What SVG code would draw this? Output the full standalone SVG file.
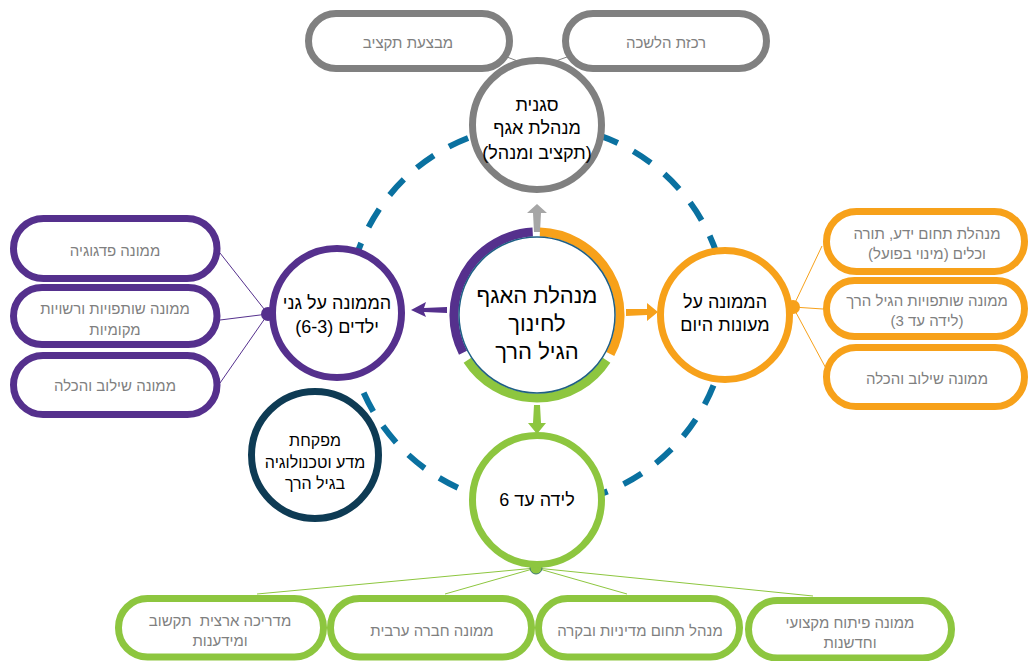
<svg xmlns="http://www.w3.org/2000/svg" width="1029" height="661" viewBox="0 0 1029 661">
<defs>
<style>
.pill{fill:#fff;stroke-width:7}
.gray{stroke:#808080}
.purple{stroke:#55308d}
.orange{stroke:#f7a11a}
.green{stroke:#8dc63f}
.navy{stroke:#0e3b54}
.pt{font-family:"Liberation Sans","DejaVu Sans",sans-serif;font-size:15px;fill:#7f7f7f;text-anchor:middle;direction:rtl}
.nt{font-family:"Liberation Sans","DejaVu Sans",sans-serif;font-size:18px;fill:#000;text-anchor:middle;direction:rtl}
.ct{font-family:"Liberation Sans","DejaVu Sans",sans-serif;font-size:22px;fill:#000;text-anchor:middle;direction:rtl}
.ln{stroke-width:1;fill:none}
.node{fill:#fff;stroke-width:7}
</style>
</defs>
<rect width="1029" height="661" fill="#fff"/>
<circle cx="537" cy="315" r="190" fill="none" stroke="#0a71a0" stroke-width="6" stroke-dasharray="21 17.5" stroke-dashoffset="5"/>
<g id="connectors">
<line class="ln gray" x1="536" y1="68" x2="507" y2="57"/>
<line class="ln gray" x1="536" y1="68" x2="567" y2="57"/>
<line class="ln purple" x1="268" y1="314" x2="220" y2="253"/>
<line class="ln purple" x1="268" y1="314" x2="220" y2="320"/>
<line class="ln purple" x1="268" y1="314" x2="220" y2="383"/>
<line class="ln orange" x1="793" y1="307" x2="822" y2="246"/>
<line class="ln orange" x1="793" y1="307" x2="823" y2="309"/>
<line class="ln orange" x1="793" y1="307" x2="829" y2="374"/>
<line class="ln green" x1="536" y1="568" x2="257" y2="594"/>
<line class="ln green" x1="536" y1="568" x2="445" y2="594"/>
<line class="ln green" x1="536" y1="568" x2="627" y2="594"/>
<line class="ln green" x1="536" y1="568" x2="813" y2="596"/>
<polygon fill="#a6a6a6" points="534,232 540,232 541,213 547,213 537,204 527,213 533,213"/>
<polygon fill="#55308d" points="447,307 447,313 424,312 426,317 411,310 426,302 424,308"/>
<polygon fill="#f7a11a" points="626,309 626,316 647,315 647,321 658,312 647,303 647,309"/>
<polygon fill="#8dc63f" points="534,405 540,405 541,423 546,423 537,434 528,423 533,423"/>
<circle cx="536" cy="68" r="7" fill="#808080"/>
<circle cx="268" cy="314" r="7" fill="#55308d"/>
<circle cx="793" cy="307" r="7" fill="#f7a11a"/>
<circle cx="536" cy="568" r="6" fill="#8dc63f" stroke="#3d7a70" stroke-width="1"/>
</g>
<g id="center">
<path d="M539.9,232.05 A83,83 0 0 1 610.3,354" fill="none" stroke="#f7a11a" stroke-width="9"/>
<path d="M606.6,360.2 A83,83 0 0 1 467.4,360.2" fill="none" stroke="#8dc63f" stroke-width="9"/>
<path d="M463,352.7 A83,83 0 0 1 532.7,232.1" fill="none" stroke="#55308d" stroke-width="9"/>
<circle cx="537" cy="315" r="78" fill="#fff" stroke="#1f5f85" stroke-width="1.5"/>
<text class="ct" x="537" y="295" dominant-baseline="central">מנהלת האגף</text>
<text class="ct" x="537" y="323" dominant-baseline="central">לחינוך</text>
<text class="ct" x="537" y="351" dominant-baseline="central">הגיל הרך</text>
</g>
<g id="deputy">
<circle class="node gray" cx="537" cy="125" r="64.5"/>
<text class="nt" x="537" y="105" dominant-baseline="central">סגנית</text>
<text class="nt" x="537" y="128" dominant-baseline="central">מנהלת אגף</text>
<text class="nt" x="537" y="153" dominant-baseline="central">(תקציב ומנהל)</text>
</g>
<g id="budget">
<rect class="pill gray" x="308.5" y="13.5" width="201" height="55" rx="27.5"/>
<text class="pt" x="408" y="42" dominant-baseline="central">מבצעת תקציב</text>
</g>
<g id="office">
<rect class="pill gray" x="565.5" y="13.5" width="201" height="55" rx="27.5"/>
<text class="pt" x="666" y="42" dominant-baseline="central">רכזת הלשכה</text>
</g>
<g id="kindergartens">
<circle class="node purple" cx="337" cy="313" r="64.5"/>
<text class="nt" x="337" y="303" dominant-baseline="central">הממונה על גני</text>
<text class="nt" x="337" y="327" dominant-baseline="central">ילדים (6-3)</text>
</g>
<g id="pedagogy">
<rect class="pill purple" x="13.5" y="218.5" width="203.5" height="60" rx="30"/>
<text class="pt" x="115" y="250" dominant-baseline="central">ממונה פדגוגיה</text>
</g>
<g id="partnerships-local">
<rect class="pill purple" x="13.5" y="287.5" width="203.5" height="57" rx="28.5"/>
<text class="pt" x="115" y="308" dominant-baseline="central">ממונה שותפויות ורשויות</text>
<text class="pt" x="115" y="329" dominant-baseline="central">מקומיות</text>
</g>
<g id="inclusion-k">
<rect class="pill purple" x="13.5" y="355.5" width="203.5" height="59" rx="29.5"/>
<text class="pt" x="115" y="385" dominant-baseline="central">ממונה שילוב והכלה</text>
</g>
<g id="daycare">
<circle class="node orange" cx="725" cy="315" r="64.5"/>
<text class="nt" x="725" y="302" dominant-baseline="central">הממונה על</text>
<text class="nt" x="725" y="325" dominant-baseline="central">מעונות היום</text>
</g>
<g id="knowledge">
<rect class="pill orange" x="826.5" y="211.5" width="198" height="60" rx="30"/>
<text class="pt" x="927" y="233" dominant-baseline="central">מנהלת תחום ידע, תורה</text>
<text class="pt" x="927" y="253" dominant-baseline="central">וכלים (מינוי בפועל)</text>
</g>
<g id="partnerships-early">
<rect class="pill orange" x="826.5" y="280.5" width="198" height="56" rx="28"/>
<text class="pt" x="927" y="300" dominant-baseline="central">ממונה שותפויות הגיל הרך</text>
<text class="pt" x="927" y="320" dominant-baseline="central">(לידה עד 3)</text>
</g>
<g id="inclusion-d">
<rect class="pill orange" x="826.5" y="347.5" width="198" height="59" rx="29.5"/>
<text class="pt" x="927" y="378" dominant-baseline="central">ממונה שילוב והכלה</text>
</g>
<g id="birth-to-6">
<circle class="node green" cx="537" cy="500" r="64.5"/>
<text class="nt" x="537" y="500" dominant-baseline="central">לידה עד 6</text>
</g>
<g id="science">
<circle class="node navy" cx="315" cy="455" r="63.5"/>
<text class="nt" x="315" y="440" dominant-baseline="central" style="font-size:16px">מפקחת</text>
<text class="nt" x="315" y="462" dominant-baseline="central" style="font-size:16px">מדע וטכנולוגיה</text>
<text class="nt" x="315" y="483" dominant-baseline="central" style="font-size:16px">בגיל הרך</text>
</g>
<g id="ict">
<rect class="pill green" x="118.5" y="598.5" width="205" height="58.5" rx="29"/>
<text class="pt" x="220" y="620" dominant-baseline="central" xml:space="preserve">מדריכה ארצית  תקשוב</text>
<text class="pt" x="220" y="640" dominant-baseline="central">ומידענות</text>
</g>
<g id="arab">
<rect class="pill green" x="330.5" y="598.5" width="201" height="58.5" rx="29"/>
<text class="pt" x="432" y="630" dominant-baseline="central">ממונה חברה ערבית</text>
</g>
<g id="policy">
<rect class="pill green" x="538.5" y="598.5" width="201" height="58.5" rx="29"/>
<text class="pt" x="640" y="630" dominant-baseline="central">מנהל תחום מדיניות ובקרה</text>
</g>
<g id="development">
<rect class="pill green" x="748.5" y="600.5" width="203" height="57.5" rx="28.75"/>
<text class="pt" x="850" y="622" dominant-baseline="central">ממונה פיתוח מקצועי</text>
<text class="pt" x="850" y="642" dominant-baseline="central">וחדשנות</text>
</g>
</svg>
